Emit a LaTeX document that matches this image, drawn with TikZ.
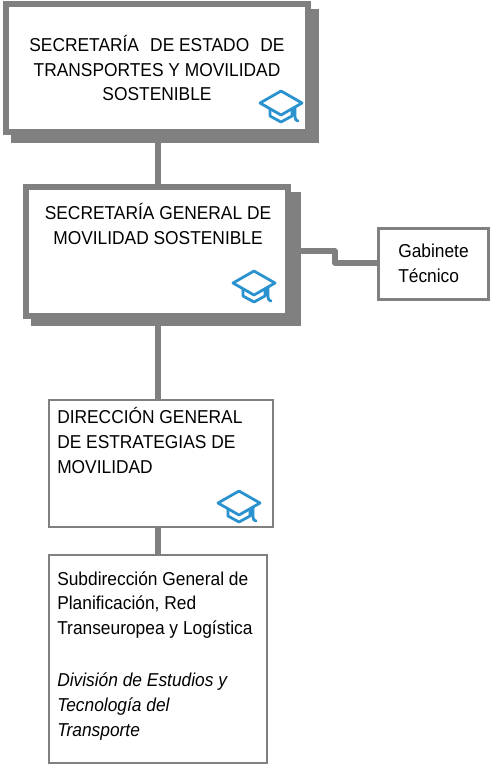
\documentclass[tikz,border=0pt]{standalone}
\usepackage{fontspec}
\setmainfont[FakeStretch=0.93]{Liberation Sans}
\definecolor{gr}{HTML}{808080}
\definecolor{hatblue}{HTML}{2A93CF}
\tikzset{
  x=0.75pt,y=-0.75pt,
  lbl/.style={inner sep=0pt,font=\fontsize{14pt}{18.7pt}\selectfont,text=black},
  shadowbox/.style={fill=gr,draw=none,inner sep=0pt,outer sep=0pt},
  heavybox/.style={draw=gr,fill=white,line width=4.5pt,inner sep=0pt,outer sep=0pt},
  thinbox/.style={draw=gr,fill=white,line width=1.6pt,inner sep=0pt,outer sep=0pt},
  link/.style={draw=gr,line width=4.2pt},
  link2/.style={draw=gr,line width=3.8pt,line join=round},
  hat/.pic={
    \draw[draw=hatblue,line width=2.1pt,line join=round,line cap=round,fill=white]
      (-21,-3) -- (0,-15) -- (21,-3) -- (0,9) -- cycle;
    \draw[draw=hatblue,line width=2.1pt,line join=round,line cap=round]
      (-11,3) -- (-11,10) -- (0,16) -- (11,10) -- (11,3)
      (14,1) -- (14,11) .. controls (14,13) and (15,15) .. (17,15);
  }
}
\newcommand{\boxat}[6][]{\node[#2,anchor=north west,minimum width=#5*0.75pt,minimum height=#6*0.75pt] (#1) at (#3,#4) {};}
\begin{document}
\begin{tikzpicture}
\useasboundingbox (0,0) rectangle (490,765);
% shadows and boxes
\boxat[sa]{shadowbox}{11}{9}{308}{134}
\boxat[a]{heavybox}{6}{4}{302}{128}
\boxat[sb]{shadowbox}{31}{192}{270}{134}
\boxat[b]{heavybox}{25.5}{187}{262}{129}
\boxat[c]{thinbox}{49}{400}{224}{127}
\boxat[d]{thinbox}{49}{555}{218}{208}
\boxat[e]{thinbox}{378.5}{228.5}{110}{71}
% connectors
\coordinate (ab) at (158,143);
\coordinate (ab2) at (158,184);
\coordinate (bc) at (158,326);
\coordinate (bc2) at (158,399);
\coordinate (cd) at (158,527);
\coordinate (cd2) at (158,554);
\draw[link] (ab) -- (ab2);
\draw[link] (bc) -- (bc2);
\draw[link] (cd) -- (cd2);
\coordinate (be) at (301,251);
\coordinate (eb) at (378,263);
\draw[link2] (be) -- (335,251) -- (335,263) -- (eb);
% labels
\node[lbl,align=center] (ta) at (157,68) {SECRETARÍA\hspace{0.6em}DE ESTADO\hspace{0.6em}DE\\TRANSPORTES Y MOVILIDAD\\SOSTENIBLE};
\node[lbl,align=center] (tb) at (158,224) {SECRETARÍA GENERAL DE\\MOVILIDAD SOSTENIBLE};
\node[lbl,align=left,anchor=north west] (tc) at (57,407) {DIRECCIÓN GENERAL\\DE ESTRATEGIAS DE\\MOVILIDAD};
\node[lbl,align=left,anchor=north west] (td) at (57,571) {Subdirección General de\\Planificación, Red\\Transeuropea y Logística\\[20pt]\textit{División de Estudios y}\\\textit{Tecnología del}\\\textit{Transporte}};
\node[lbl,align=left,anchor=north west] (te) at (398,244) {Gabinete\\Técnico};
% icons
\pic at (281,106) {hat};
\pic at (254,286) {hat};
\pic at (239,506) {hat};
\end{tikzpicture}
\end{document}
